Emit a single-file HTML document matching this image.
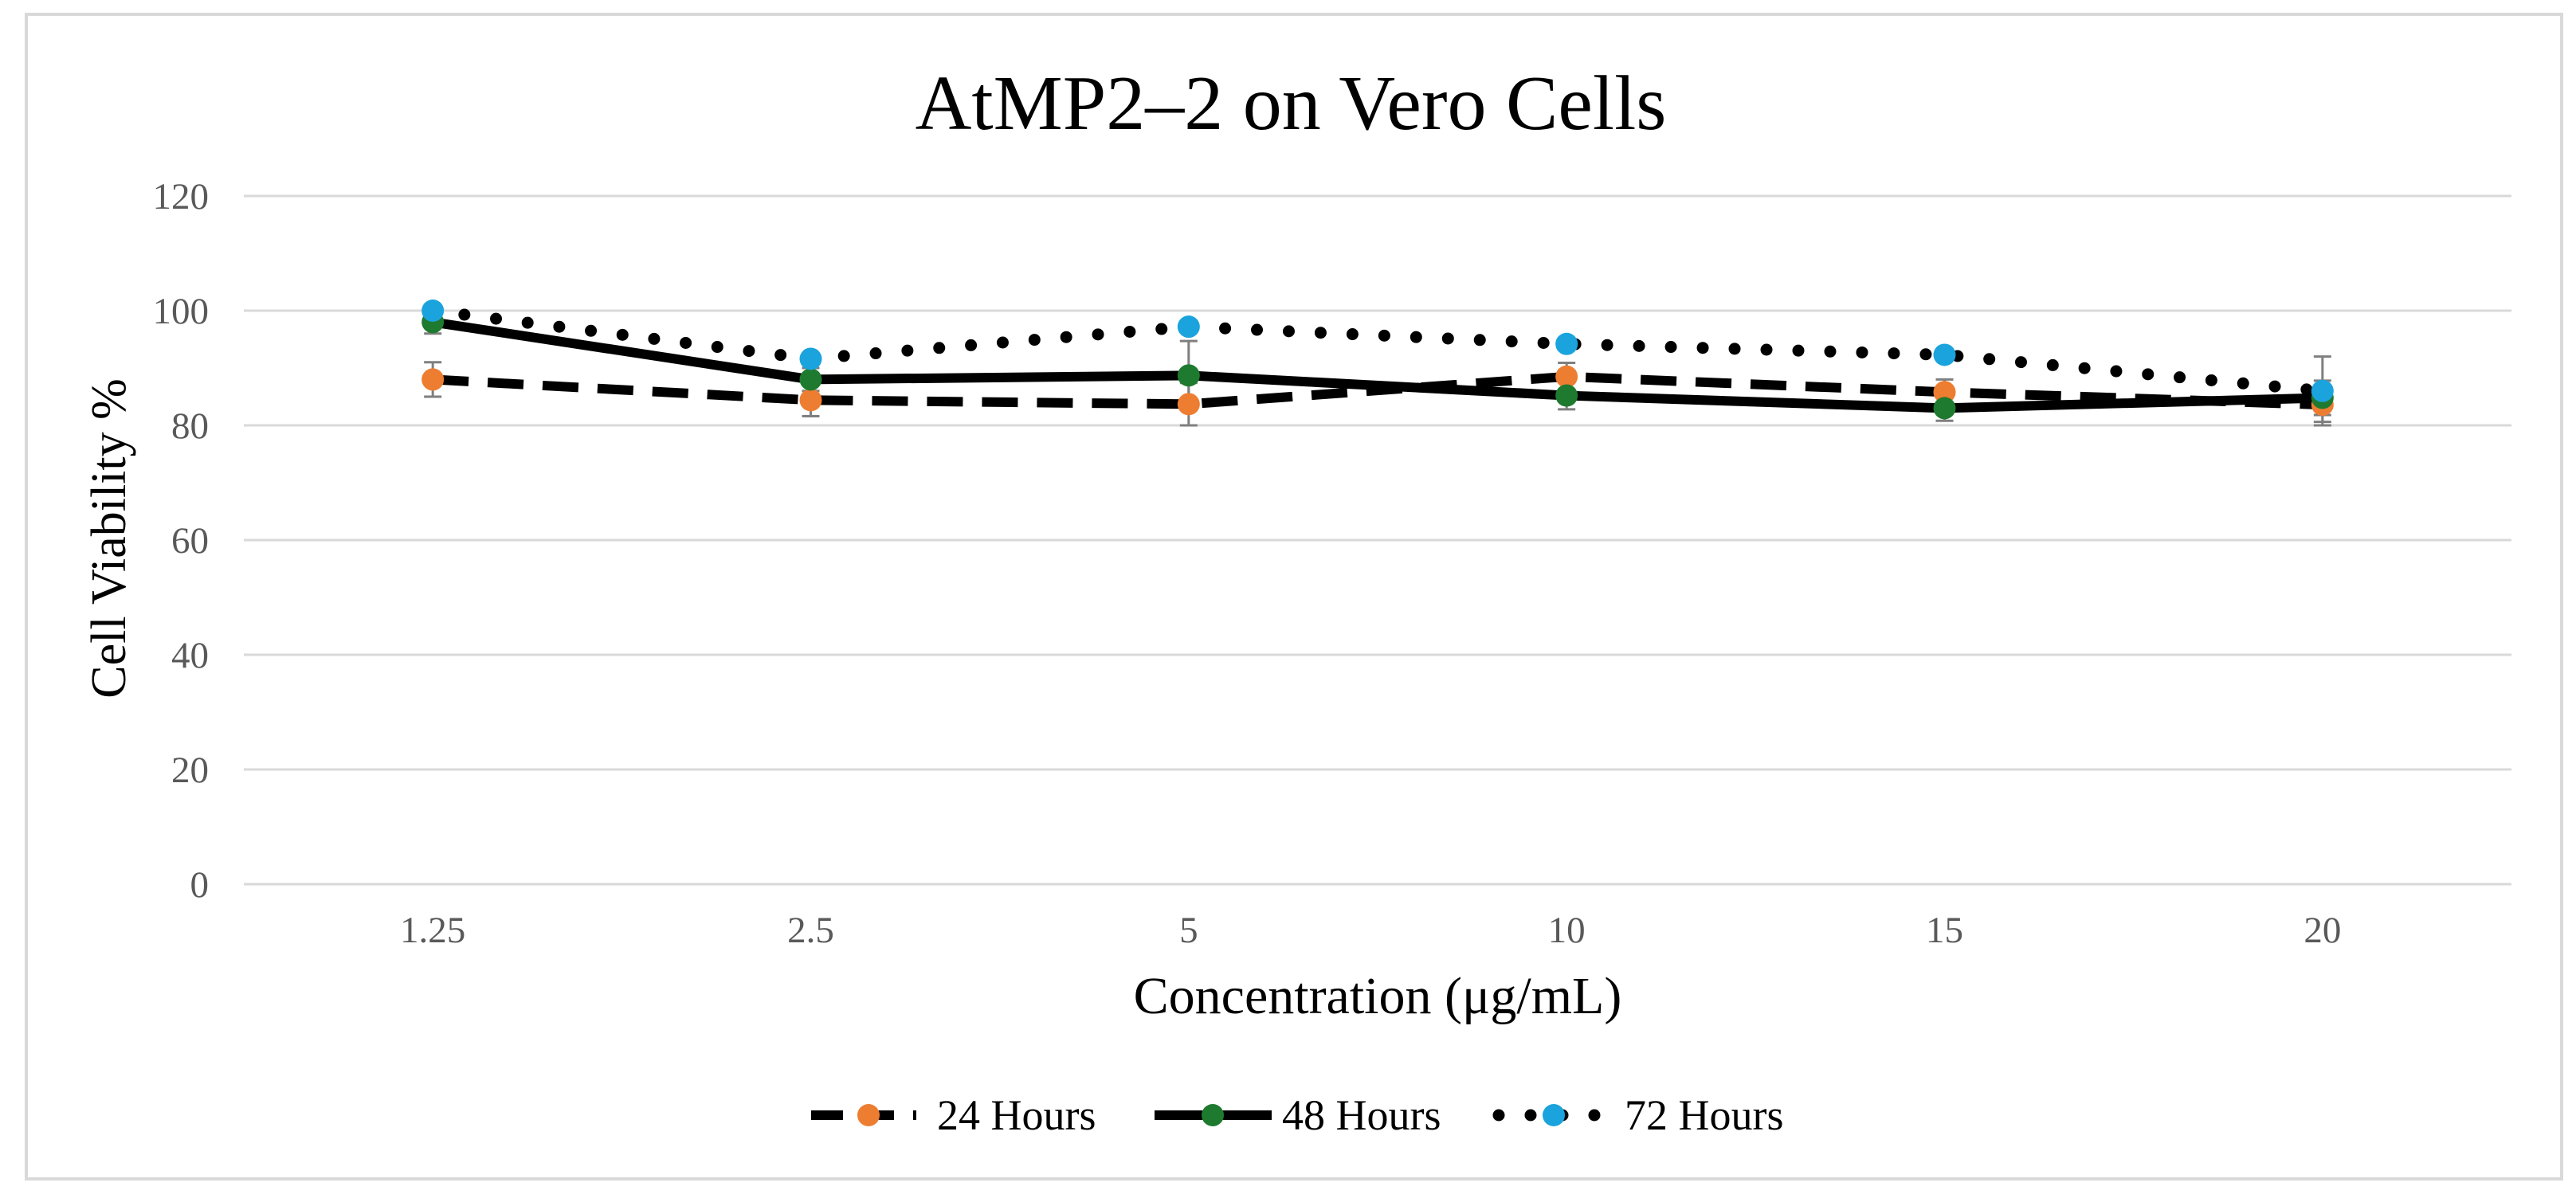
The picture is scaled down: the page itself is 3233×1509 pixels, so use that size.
<!DOCTYPE html>
<html><head><meta charset="utf-8"><style>
html,body{margin:0;padding:0;background:#fff;}
svg{display:block;font-family:"Liberation Serif",serif;}
</style></head><body>
<svg id="chart" width="3233" height="1509" viewBox="0 0 3233 1509">
<rect x="33" y="18" width="3182" height="1462" fill="#fff" stroke="#d9d9d9" stroke-width="4"/>
<text x="1620" y="162" font-size="98" text-anchor="middle" fill="#000">AtMP2–2 on Vero Cells</text>
<g id="grid"></g>
<g id="yticks"></g>
<g id="xticks"></g>
<g id="series"></g>
<text transform="translate(157,676) rotate(-90)" font-size="62" text-anchor="middle" fill="#000">Cell Viability %</text>
<text x="1729" y="1272" font-size="66" text-anchor="middle" fill="#000">Concentration (μg/mL)</text>
<g>
 <g>
  <line x1="1018" y1="1400" x2="1150" y2="1400" stroke="#000" stroke-width="12" stroke-dasharray="40 24"/>
  <circle cx="1090" cy="1400" r="14" fill="#ed7d31"/>
  <text x="1176" y="1418" font-size="54">24 Hours</text>
 </g>
 <g>
  <line x1="1449" y1="1400" x2="1596" y2="1400" stroke="#000" stroke-width="12"/>
  <circle cx="1522" cy="1400" r="14" fill="#1e7a2e"/>
  <text x="1609" y="1418" font-size="54">48 Hours</text>
 </g>
 <g>
  <line x1="1881" y1="1400" x2="2015" y2="1400" stroke="#000" stroke-width="15" stroke-linecap="round" stroke-dasharray="0 40"/>
  <circle cx="1950" cy="1400" r="14" fill="#1aa3dd"/>
  <text x="2039" y="1418" font-size="54">72 Hours</text>
 </g>
</g>
</svg>
<script>
const categories = ["1.25","2.5","5","10","15","20"];
const yTicks = [0,20,40,60,80,100,120];
const s24 = [88, 84.4, 83.7, 88.5, 85.8, 83.6];
const e24 = [3, 2.8, 3.7, 2.4, 2.2, 3];
const s48 = [98, 88, 88.7, 85.2, 83, 84.8];
const e48 = [2, 2, 6, 2.4, 2.2, 3];
const s72 = [100, 91.6, 97.2, 94.2, 92.3, 86];
const e72 = [0.5, 0.5, 0.5, 0.5, 0.5, 6];

const NS = "http://www.w3.org/2000/svg";
const L = 306, R = 3152, T = 246, B = 1110, YMAX = 120;
const band = (R - L) / categories.length;
const xS = i => L + band * (i + 0.5);
const yS = v => B - (v / YMAX) * (B - T);
function mk(tag, attrs, parent) {
  const el = document.createElementNS(NS, tag);
  for (const k in attrs) el.setAttribute(k, attrs[k]);
  parent.appendChild(el);
  return el;
}
const grid = document.getElementById("grid");
const yt = document.getElementById("yticks");
yTicks.forEach(v => {
  const ln = mk("line", {x1: L, x2: R, y1: yS(v), y2: yS(v), stroke: "#d9d9d9", "stroke-width": 3}, grid);
  
  
  const t = mk("text", {x: 262, y: yS(v) + 16, "font-size": 47, "text-anchor": "end", fill: "#595959"}, yt);
  t.textContent = v;
  
  
});
const xt = document.getElementById("xticks");
categories.forEach((c, i) => {
  const t = mk("text", {x: xS(i), y: 1183, "font-size": 47, "text-anchor": "middle", fill: "#595959"}, xt);
  t.textContent = c;
  
  
});
const sg = document.getElementById("series");
const defs = [
  {vals: s24, errs: e24, color: "#ed7d31", style: {"stroke-dasharray": "45 24"}, name: "24h"},
  {vals: s48, errs: e48, color: "#1e7a2e", style: {}, name: "48h"},
  {vals: s72, errs: e72, color: "#1aa3dd", style: {"stroke-dasharray": "0 40", "stroke-linecap": "round", "stroke-width": 15}, name: "72h"}
];
[2,0,1].forEach(k => {
  const d = defs[k];
  const pts = d.vals.map((v, i) => xS(i) + "," + yS(v)).join(" ");
  const attrs = Object.assign({points: pts, fill: "none", stroke: "#000", "stroke-width": 12, "stroke-linejoin": "round"}, d.style);
  const pl = mk("polyline", attrs, sg);
  
  
});
defs.forEach(d => {
  d.vals.forEach((v, i) => {
    const x = xS(i), y1 = yS(v + d.errs[i]), y2 = yS(v - d.errs[i]);
    const g = mk("g", {stroke: "#7f7f7f", "stroke-width": 3}, sg);
    
    
    mk("line", {x1: x, x2: x, y1: y1, y2: y2}, g);
    mk("line", {x1: x - 11, x2: x + 11, y1: y1, y2: y1}, g);
    mk("line", {x1: x - 11, x2: x + 11, y1: y2, y2: y2}, g);
  });
});
defs.forEach(d => {
  d.vals.forEach((v, i) => {
    const c = mk("circle", {cx: xS(i), cy: yS(v), r: 14, fill: d.color}, sg);
    
    
  });
});
</script>
</body></html>
